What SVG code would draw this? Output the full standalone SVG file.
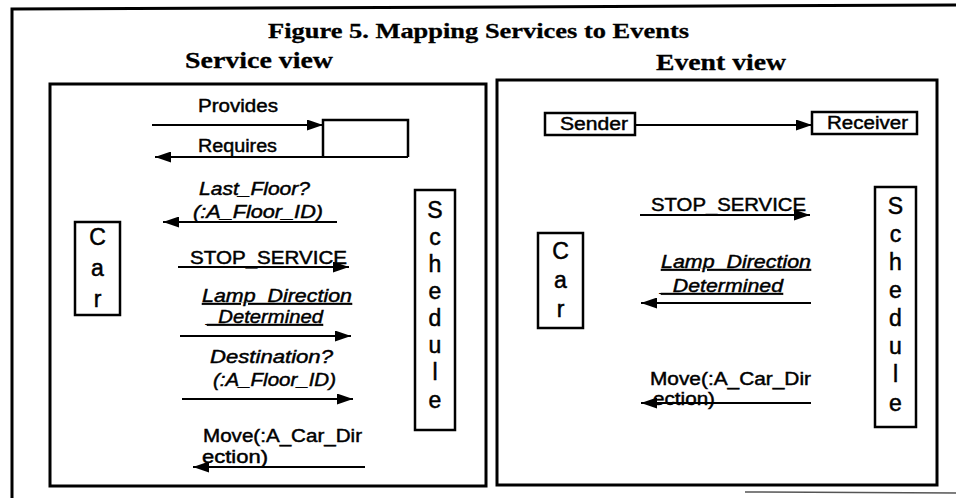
<svg xmlns="http://www.w3.org/2000/svg" width="956" height="498" viewBox="0 0 956 498">
  <style>
    .frame { fill: none; stroke: #000; stroke-width: 3; }
    .box { fill: #fff; stroke: #000; stroke-width: 2.5; }
    .conn { fill: none; stroke: #000; stroke-width: 2.2; marker-end: url(#ah); }
    .heading { font-family: "Liberation Serif", "Times New Roman", serif; font-weight: bold; fill: #000; stroke: #000; stroke-width: 0.3; }
    .lbl { font-family: "Liberation Sans", Arial, sans-serif; font-size: 18px; fill: #000; stroke: #000; stroke-width: 0.45; }
    .it { font-style: italic; }
    .ul { text-decoration: underline; }
    .letter { font-family: "Liberation Sans", Arial, sans-serif; font-size: 23px; fill: #000; stroke: #000; stroke-width: 0.5; text-anchor: middle; }
  </style>
  <defs>
    <marker id="ah" markerWidth="16" markerHeight="11" refX="16" refY="5.5" orient="auto" markerUnits="userSpaceOnUse">
      <path d="M0,0 L16,5.5 L0,11 Z" fill="#000"/>
    </marker>
  </defs>

  <rect width="956" height="498" fill="#fff"/>

  <!-- outer figure frame -->
  <g id="figure-frame">
    <path class="frame" d="M12,498 L12,9 L956,5"/>
    <line x1="745" y1="492" x2="956" y2="493" stroke="#555" stroke-width="1.5"/>
  </g>

  <!-- headings -->
  <g id="title">
    <text class="heading" x="268" y="38" font-size="21" textLength="421" lengthAdjust="spacingAndGlyphs">Figure 5. Mapping Services to Events</text>
  </g>

  <!-- left panel -->
  <g id="service-view">
    <text class="heading" x="185" y="68" font-size="24" textLength="148" lengthAdjust="spacingAndGlyphs">Service view</text>
    <rect class="frame" x="50" y="84" width="436" height="402"/>
  </g>

  <!-- right panel -->
  <g id="event-view">
    <text class="heading" x="656" y="70" font-size="24" textLength="130" lengthAdjust="spacingAndGlyphs">Event view</text>
    <rect class="frame" x="497" y="80" width="440" height="405"/>
  </g>

  <!-- service-view nodes -->
  <g id="service-box">
    <path class="box" fill="none" d="M323,157 L323,120 L408,120 L408,157"/>
  </g>

  <g id="car-service">
    <rect class="box" x="75" y="222" width="45" height="93"/>
    <text class="letter" x="97.5" y="245">C</text>
    <text class="letter" x="97.5" y="276">a</text>
    <text class="letter" x="97.5" y="307">r</text>
  </g>

  <g id="schedule-service">
    <rect class="box" x="415" y="190" width="40" height="240"/>
    <text class="letter" x="435" y="218">S</text>
    <text class="letter" x="435" y="245">c</text>
    <text class="letter" x="435" y="272">h</text>
    <text class="letter" x="435" y="299">e</text>
    <text class="letter" x="435" y="326">d</text>
    <text class="letter" x="435" y="353">u</text>
    <text class="letter" x="435" y="380">l</text>
    <text class="letter" x="435" y="408">e</text>
  </g>

  <!-- event-view nodes -->
  <g id="sender">
    <rect class="box" x="545" y="113" width="90" height="22"/>
    <text class="lbl" x="560" y="130" textLength="68" lengthAdjust="spacingAndGlyphs">Sender</text>
  </g>

  <g id="receiver">
    <rect class="box" x="812" y="112" width="105" height="22"/>
    <text class="lbl" x="827" y="129" textLength="81" lengthAdjust="spacingAndGlyphs">Receiver</text>
  </g>

  <g id="car-event">
    <rect class="box" x="538" y="233" width="45" height="95"/>
    <text class="letter" x="560.5" y="259">C</text>
    <text class="letter" x="560.5" y="288">a</text>
    <text class="letter" x="560.5" y="317">r</text>
  </g>

  <g id="schedule-event">
    <rect class="box" x="875" y="187" width="41" height="240"/>
    <text class="letter" x="895.5" y="214">S</text>
    <text class="letter" x="895.5" y="242">c</text>
    <text class="letter" x="895.5" y="270">h</text>
    <text class="letter" x="895.5" y="298">e</text>
    <text class="letter" x="895.5" y="326">d</text>
    <text class="letter" x="895.5" y="354">u</text>
    <text class="letter" x="895.5" y="382">l</text>
    <text class="letter" x="895.5" y="411">e</text>
  </g>

  <!-- connectors -->
  <g id="connectors">
    <line class="conn" x1="152" y1="125" x2="323" y2="125"/>
    <line class="conn" x1="408" y1="157" x2="155" y2="157"/>
    <line class="conn" x1="337" y1="222" x2="163" y2="222"/>
    <line class="conn" x1="178" y1="267" x2="349" y2="267"/>
    <line class="conn" x1="180" y1="336" x2="351" y2="336"/>
    <line class="conn" x1="182" y1="399" x2="353" y2="399"/>
    <line class="conn" x1="365" y1="467" x2="193" y2="467"/>

    <line class="conn" x1="635" y1="125" x2="812" y2="125"/>
    <line class="conn" x1="640" y1="215" x2="810" y2="215"/>
    <line class="conn" x1="811" y1="303" x2="641" y2="303"/>
    <line class="conn" x1="811" y1="403" x2="641" y2="403"/>
  </g>

  <!-- connector labels -->
  <g id="connector-labels">
    <text class="lbl" x="198" y="112" textLength="80" lengthAdjust="spacingAndGlyphs">Provides</text>
    <text class="lbl" x="198" y="152" textLength="79" lengthAdjust="spacingAndGlyphs">Requires</text>
    <text class="lbl it" x="199" y="195" textLength="111" lengthAdjust="spacingAndGlyphs">Last_Floor?</text>
    <text class="lbl it" x="193" y="218" textLength="130" lengthAdjust="spacingAndGlyphs">(:A_Floor_ID)</text>
    <text class="lbl" x="190" y="264" textLength="157" lengthAdjust="spacingAndGlyphs">STOP_SERVICE</text>
    <text class="lbl it ul" x="202" y="302" textLength="150" lengthAdjust="spacingAndGlyphs">Lamp_Direction</text>
    <text class="lbl it ul" x="207" y="323" textLength="116" lengthAdjust="spacingAndGlyphs">_Determined</text>
    <text class="lbl it" x="210" y="363" textLength="123" lengthAdjust="spacingAndGlyphs">Destination?</text>
    <text class="lbl it" x="213" y="386" textLength="123" lengthAdjust="spacingAndGlyphs">(:A_Floor_ID)</text>
    <text class="lbl" x="203" y="442" textLength="159" lengthAdjust="spacingAndGlyphs">Move(:A_Car_Dir</text>
    <text class="lbl" x="202" y="463" textLength="66" lengthAdjust="spacingAndGlyphs">ection)</text>

    <text class="lbl" x="651" y="211" textLength="155" lengthAdjust="spacingAndGlyphs">STOP_SERVICE</text>
    <text class="lbl it ul" x="661" y="268" textLength="150" lengthAdjust="spacingAndGlyphs">Lamp_Direction</text>
    <text class="lbl it ul" x="661" y="292" textLength="122" lengthAdjust="spacingAndGlyphs">_Determined</text>
    <text class="lbl" x="650" y="385" textLength="161" lengthAdjust="spacingAndGlyphs">Move(:A_Car_Dir</text>
    <text class="lbl" x="653" y="405" textLength="62" lengthAdjust="spacingAndGlyphs">ection)</text>
  </g>
</svg>
